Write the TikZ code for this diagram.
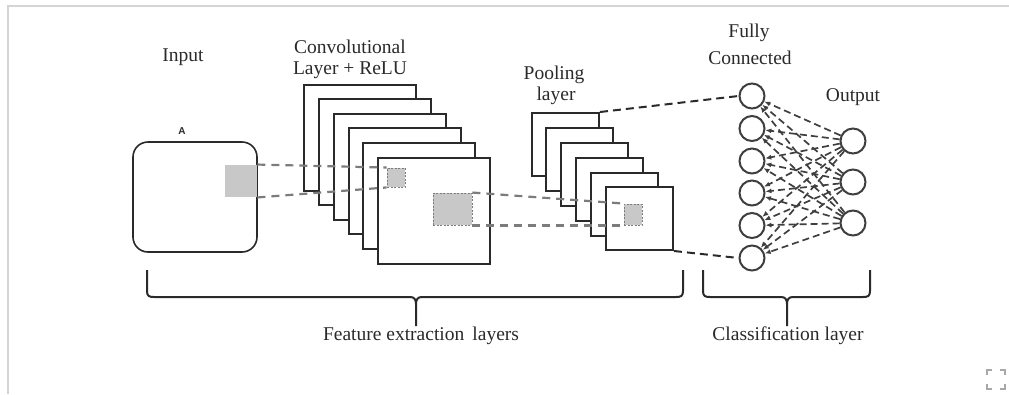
\documentclass[tikz,border=0pt]{standalone}
\usepackage{fontspec}
\setmainfont{Liberation Serif}
\setsansfont{Liberation Sans}
\usetikzlibrary{arrows.meta}
\definecolor{ink}{HTML}{2A2A2A}
\definecolor{fillgray}{HTML}{C8C8C8}
\definecolor{dashgray}{HTML}{7C7C7C}
\definecolor{framegray}{HTML}{D4D4D4}
\definecolor{icongray}{HTML}{A8A8A8}
\tikzset{
  lbl/.style={font=\fontsize{19.5}{23}\selectfont, text=ink, inner sep=0pt},
  convlayer/.style={draw=ink, line width=2pt, fill=white, inner sep=0pt,
    minimum width=112pt, minimum height=106pt},
  poollayer/.style={draw=ink, line width=2pt, fill=white, inner sep=0pt,
    minimum width=67pt, minimum height=63pt},
  patch/.style={fill=fillgray, draw=dashgray, line width=0.9pt,
    dash pattern=on 2pt off 1.5pt, inner sep=0pt},
  neuron/.style={circle, draw=ink!90, line width=2pt, fill=white,
    minimum size=25pt, inner sep=0pt},
  mapline/.style={draw=dashgray, line width=2.2pt, dash pattern=on 8pt off 6pt},
  fcline/.style={draw=ink, line width=2pt, dash pattern=on 8pt off 5pt},
  fcedge/.style={draw=ink!90, line width=1.7pt, dash pattern=on 7pt off 4pt,
    -{Latex[length=6pt,width=5pt]}},
  bracket/.style={draw=ink, line width=2pt, line join=round},
}
\begin{document}
\begin{tikzpicture}[x=1pt, y=-1pt]
\useasboundingbox (0,0) rectangle (1009,394);

% page frame and the expand icon
\draw[framegray, line width=1.6pt] (8,394) -- (8,6) -- (1009,6);
\begin{scope}[icongray, line width=2.5pt]
  \draw (987,375) -- (987,370) -- (992,370);
  \draw (1000,370) -- (1005,370) -- (1005,375);
  \draw (987,384) -- (987,389) -- (992,389);
  \draw (1000,389) -- (1005,389) -- (1005,384);
\end{scope}

% input image
\node[draw=ink, line width=1.6pt, rounded corners=15pt, inner sep=0pt,
  minimum width=124pt, minimum height=110pt] (inp) at (195,197) {};
\draw[ink, line width=2.6pt] (133,158) -- (133,238);
\node[patch, draw=none, minimum width=32pt, minimum height=32pt] (ig) at (241,181) {};
\node[font=\sffamily\bfseries\fontsize{10}{12}\selectfont, text=ink] (alabel) at (182,131) {A};

% convolutional feature maps
\foreach \i/\l/\t in {1/304/85, 2/319/99, 3/334/114, 4/349/128, 5/363/143, 6/378/158}
  \node[convlayer] (conv\i) at (\l+56,\t+53) {};
\node[patch, minimum width=18pt, minimum height=19pt] (cs) at (396,177.5) {};
\node[patch, minimum width=39pt, minimum height=32pt] (cb) at (452.5,209) {};

% pooling maps
\foreach \i/\l/\t in {1/532/113, 2/546/128, 3/561/143, 4/576/158, 5/591/173, 6/606/187}
  \node[poollayer] (pool\i) at (\l+33.5,\t+31.5) {};
\node[patch, minimum width=18pt, minimum height=21pt] (ps) at (633,214.5) {};

% receptive-field projections
\draw[mapline] (ig.north east) -- (cs.north west);
\draw[mapline] (ig.south east) -- (cs.south west);
\draw[mapline] (cb.north east) -- (ps.north west);
\draw[mapline] (cb.south east) -- (ps.south west);

% fully connected and output neurons
\foreach \i/\y in {1/96, 2/128.5, 3/161, 4/193, 5/225.5, 6/258}
  \node[neuron] (fc\i) at (752,\y) {};
\foreach \j/\y in {1/141, 2/182, 3/223}
  \node[neuron] (out\j) at (853,\y) {};

\draw[fcline] (pool1.north east) -- (fc1.west);
\draw[fcline] (pool6.south east) -- (fc6.west);

\foreach \i in {1,...,6}
  \foreach \j in {1,2,3}
    \draw[fcedge] (out\j) -- (fc\i);

% braces
\draw[bracket] (147,270) -- (147,291) .. controls (147,296) and (149,297) .. (154,297)
  -- (410,297) .. controls (414,297) and (416,299) .. (416,304) -- (416,326);
\draw[bracket] (416,304) .. controls (416,299) and (418,297) .. (422,297)
  -- (676,297) .. controls (681,297) and (683,296) .. (683,291) -- (683,270);
\draw[bracket] (703,270) -- (703,291) .. controls (703,296) and (705,297) .. (710,297)
  -- (781,297) .. controls (785,297) and (787,299) .. (787,304) -- (787,326);
\draw[bracket] (787,304) .. controls (787,299) and (789,297) .. (793,297)
  -- (863,297) .. controls (868,297) and (870,296) .. (870,291) -- (870,270);

% labels
\node[lbl] (tin) at (183,57) {Input};
\node[lbl] (tconv1) at (350,47) {Convolutional};
\node[lbl] (tconv2) at (350,70) {Layer + ReLU};
\node[lbl] (tpool1) at (554,75) {Pooling};
\node[lbl] (tpool2) at (556,96) {layer};
\node[lbl] (tfc1) at (749,33) {Fully};
\node[lbl] (tfc2) at (750,58) {Connected};
\node[lbl] (tout) at (853,97) {Output};
\node[lbl] (tfeat) at (421,336) {Feature extraction\ \,layers};
\node[lbl] (tcls) at (788,336) {Classification layer};
\end{tikzpicture}
\end{document}
